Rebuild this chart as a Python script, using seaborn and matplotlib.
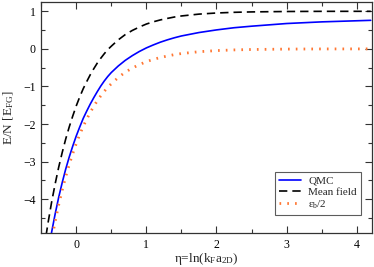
import numpy as np
import pandas as pd
import matplotlib
matplotlib.use("Agg")
import matplotlib.pyplot as plt
import seaborn as sns
from matplotlib.ticker import MultipleLocator

# Data
eta_qmc = [-0.40, -0.35, -0.30, -0.25, -0.20, -0.15, -0.10, -0.05, 0.0, 0.05, 0.10, 0.15, 0.20, 0.25,
           0.30, 0.35, 0.40, 0.45, 0.50, 0.60, 0.70, 0.80, 0.90, 1.0, 1.1, 1.2, 1.3, 1.4, 1.5, 1.75,
           2.0, 2.25, 2.5, 3.0, 3.5, 4.2]
e_qmc = [-5.41, -4.87, -4.39, -3.95, -3.56, -3.20, -2.88, -2.59, -2.32, -2.08, -1.85, -1.655, -1.47, -1.30,
         -1.14, -0.99, -0.855, -0.735, -0.63, -0.455, -0.305, -0.18, -0.07, 0.025, 0.105, 0.178, 0.24, 0.295, 0.343, 0.434,
         0.504, 0.562, 0.603, 0.674, 0.718, 0.759]

eta_mf = [-0.46, -0.45, -0.40, -0.35, -0.30, -0.25, -0.20, -0.15, -0.10, -0.05, 0.0, 0.05, 0.10, 0.15,
          0.20, 0.25, 0.30, 0.35, 0.40, 0.45, 0.50, 0.60, 0.70, 0.80, 0.90, 1.0, 1.1, 1.2, 1.3, 1.4,
          1.5, 1.75, 2.0, 2.25, 2.5, 3.0, 3.5, 4.2]
e_mf = [-5.32, -5.2, -4.61, -4.07, -3.59, -3.15, -2.76, -2.40, -2.08, -1.79, -1.52, -1.28, -1.06, -0.87,
        -0.69, -0.53, -0.38, -0.25, -0.13, -0.02, 0.07, 0.24, 0.38, 0.49, 0.58, 0.66, 0.72, 0.77, 0.81, 0.847,
        0.875, 0.924, 0.954, 0.972, 0.983, 0.994, 0.998, 0.999]

eta_eb = [-0.36, -0.35, -0.30, -0.25, -0.20, -0.15, -0.10, -0.05, 0.0, 0.05, 0.10, 0.15, 0.20, 0.25,
          0.30, 0.35, 0.40, 0.45, 0.50, 0.60, 0.70, 0.80, 0.90, 1.0, 1.1, 1.2, 1.3, 1.4, 1.5, 1.75,
          2.0, 2.25, 2.5, 3.0, 3.5, 4.2]
e_eb = [-5.18, -5.07, -4.59, -4.15, -3.76, -3.40, -3.08, -2.79, -2.52, -2.28, -2.06, -1.87, -1.69, -1.53,
        -1.38, -1.25, -1.13, -1.02, -0.93, -0.76, -0.62, -0.51, -0.42, -0.34, -0.28, -0.23, -0.19, -0.153, -0.125, -0.076,
        -0.046, -0.028, -0.017, -0.006, -0.002, -0.0006]

labels = ["QMC", "Mean field", r"$\mathregular{\varepsilon_b}$/2"]

sns.set_style("ticks")
plt.rcParams["font.family"] = ["Liberation Serif", "DejaVu Serif"]
plt.rcParams["mathtext.fontset"] = "custom"
plt.rcParams["mathtext.rm"] = "Liberation Serif"
plt.rcParams["mathtext.it"] = "Liberation Serif:italic"

fig = plt.figure(figsize=(3.74, 2.67), dpi=100)
ax = fig.add_axes([0.11, 0.127, 0.885, 0.866])

df_q = pd.DataFrame({"eta": eta_qmc, "E": e_qmc})
df_m = pd.DataFrame({"eta": eta_mf, "E": e_mf})
df_e = pd.DataFrame({"eta": eta_eb, "E": e_eb})

sns.lineplot(data=df_q, x="eta", y="E", ax=ax, color="#0000ff", lw=1.2, label=labels[0])
sns.lineplot(data=df_m, x="eta", y="E", ax=ax, color="black", lw=1.2, label=labels[1])
ax.lines[-1].set_dashes([5, 3])
sns.lineplot(data=df_e, x="eta", y="E", ax=ax, color="#ff7733", lw=2.0, label=labels[2])
ax.lines[-1].set_linestyle((0, (0.6, 2.2)))

ax.set_xlim(-0.5, 4.22)
ax.set_ylim(-4.9, 1.25)
ax.xaxis.set_major_locator(MultipleLocator(1))
ax.xaxis.set_minor_locator(MultipleLocator(0.5))
ax.yaxis.set_major_locator(MultipleLocator(1))
ax.yaxis.set_minor_locator(MultipleLocator(0.5))
ax.tick_params(which="both", direction="in", top=True, right=True, labelsize=8.5, colors="#333333",
               labelcolor="black", width=0.8)
ax.tick_params(which="major", length=5, pad=4)
ax.tick_params(which="minor", length=3)
for s in ax.spines.values():
    s.set_linewidth(0.9)
    s.set_color("#333333")

ax.set_xlabel(r"η=ln(k$_\mathregular{F}$a$_\mathregular{2D}$)", fontsize=9.5, labelpad=0)
ax.set_ylabel(r"E/N [E$_\mathregular{FG}$]", fontsize=9.5, labelpad=5)

leg = ax.legend(loc="lower right", bbox_to_anchor=(0.965, 0.08), fontsize=8, frameon=True,
                fancybox=False, edgecolor="#333333", handlelength=2.0, borderpad=0.35,
                labelspacing=0.12, handletextpad=0.6, borderaxespad=0)
leg.get_frame().set_linewidth(0.8)

fig.savefig("out.png", dpi=100)
